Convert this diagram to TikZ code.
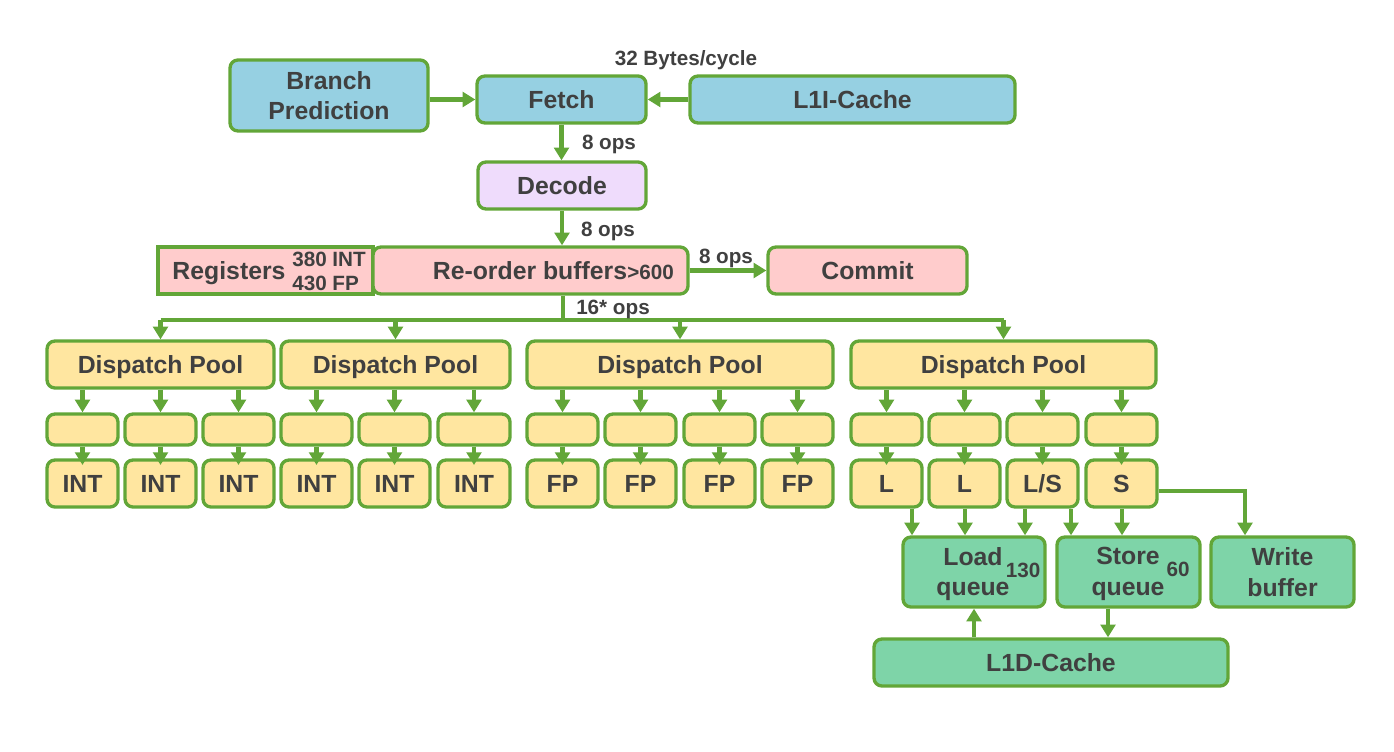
\documentclass[tikz,border=0pt]{standalone}
\usepackage{fontspec}
\setmainfont{Liberation Sans}
\usetikzlibrary{arrows.meta,calc}
\definecolor{lgreen}{RGB}{98,166,56}
\definecolor{cblue}{RGB}{150,208,226}
\definecolor{cpurple}{RGB}{239,220,252}
\definecolor{cpink}{RGB}{255,204,204}
\definecolor{cyellow}{RGB}{255,230,160}
\definecolor{cmint}{RGB}{126,212,168}
\definecolor{txt}{RGB}{64,64,64}
\newcommand\mainf{\fontsize{18.6}{23}\selectfont\bfseries}
\newcommand\smallf{\fontsize{15.5}{18}\selectfont\bfseries}
% \mybox{name}{x1}{y1}{x2}{y2}{style}{text}
\newcommand\mybox[7]{\node[#6, minimum width={(#4-#2)*0.75pt}, minimum height={(#5-#3)*0.75pt}] (#1) at ({(#2+#4)/2},{(#3+#5)/2}) {#7};}
\begin{document}
\begin{tikzpicture}[x=0.75pt,y=-0.75pt,
  base/.style={draw=lgreen, line width=2.5pt, rounded corners=6pt, text=txt, font=\mainf, inner sep=0pt, align=center},
  capc/.style={text height=13.3pt, text depth=0pt},
  bluebox/.style={base, fill=cblue},
  purplebox/.style={base, fill=cpurple},
  pinkbox/.style={base, fill=cpink},
  pinkrect/.style={base, fill=cpink, rounded corners=0pt},
  yellowbox/.style={base, fill=cyellow},
  mintbox/.style={base, fill=cmint},
  lbl/.style={text=txt, font=\smallf, inner sep=0pt},
  lblc/.style={lbl, text height=11.1pt, text depth=0pt},
  txtlbl/.style={text=txt, font=\mainf, inner sep=0pt, align=center},
  arr/.style={draw=lgreen, line width=3.5pt, -{Triangle[width=11pt,length=9.5pt]}},
  wire/.style={draw=lgreen, line width=3.5pt},
  intoarr/.style={arr, shorten >=-5pt}
]
\path[use as bounding box] (0,0) rectangle (1394,752);

% front end
\mybox{bp}{230}{60}{428}{131}{bluebox}{Branch\\Prediction}
\mybox{fetch}{477}{76}{646}{123}{bluebox,capc}{Fetch}
\mybox{l1i}{690}{76}{1015}{123}{bluebox,capc}{L1I-Cache}
\node[lblc] (bw) at (686,58) {32 Bytes/cycle};
\mybox{decode}{478}{162}{646}{209}{purplebox,capc}{Decode}

\mybox{regs}{158}{247}{373}{294}{pinkrect}{}
\node[txtlbl, anchor=base] (regtxt) at (229,279) {Registers};
\node[lbl, anchor=west, align=left] (regnum) at (292,271) {380 INT\\430 FP};
\mybox{rob}{373}{247}{688}{294}{pinkbox}{}
\node[txtlbl, anchor=base] (robtxt) at (530,279) {Re-order buffers};
\node[lbl, anchor=base west] (robnum) at (627,279) {>600};
\mybox{commit}{768}{247}{967}{294}{pinkbox,capc}{Commit}

\draw[arr] (bp.east |- fetch.west) -- (fetch.west);
\draw[arr] (l1i.west) -- (fetch.east);
\draw[arr] (fetch.south) -- (fetch.south |- decode.north);
\node[lblc] (ops1) at (609,142) {8 ops};
\draw[arr] (decode.south) -- (decode.south |- rob.north);
\node[lblc] (ops2) at (608,229) {8 ops};
\draw[arr] (rob.east) -- (commit.west);
\node[lblc] (ops3) at (726,256) {8 ops};

% dispatch pools
\mybox{dp1}{47}{341}{274}{388}{yellowbox,capc}{Dispatch Pool}
\mybox{dp2}{281}{341}{510}{388}{yellowbox,capc}{Dispatch Pool}
\mybox{dp3}{527}{341}{833}{388}{yellowbox,capc}{Dispatch Pool}
\mybox{dp4}{851}{341}{1156}{388}{yellowbox,capc}{Dispatch Pool}

\coordinate (split) at (563,320);
\draw[wire] (split |- rob.south) -- (split);
\draw[wire] (dp1.north |- split) -- (dp4.north |- split);
\node[lblc] (ops4) at (613,307) {16* ops};
\foreach \d in {dp1,dp2,dp3,dp4}{
  \draw[arr] (\d.north |- split) -- (\d.north);
}

% queues and units
\foreach \n/\a/\b/\t/\d in {
  1/47/118/INT/dp1, 2/125/196/INT/dp1, 3/203/274/INT/dp1,
  4/281/352/INT/dp2, 5/359/430/INT/dp2, 6/438/510/INT/dp2,
  7/527/598/FP/dp3, 8/605/676/FP/dp3, 9/684/755/FP/dp3, 10/762/833/FP/dp3,
  11/851/922/L/dp4, 12/929/1000/L/dp4, 13/1007/1078/L\slash S/dp4, 14/1086/1157/S/dp4}{
  \mybox{sb\n}{\a}{414}{\b}{445}{yellowbox}{}
  \mybox{u\n}{\a}{460}{\b}{507}{yellowbox,capc}{\t}
  \draw[arr] (sb\n.north |- \d.south) -- (sb\n.north);
  \draw[intoarr] (sb\n.south) -- (u\n.north);
}

% memory
\mybox{lq}{903}{537}{1045}{607}{mintbox}{}
\node[txtlbl] (lqtxt) at (973,574) {Load\\queue};
\node[lbl] (lqnum) at (1023,570) {130};
\mybox{sq}{1057}{537}{1200}{607}{mintbox}{}
\node[txtlbl] (sqtxt) at (1128,574) {Store\\queue};
\node[lbl] (sqnum) at (1178,569) {60};
\mybox{wb}{1211}{537}{1354}{607}{mintbox}{Write\\buffer}
\mybox{l1d}{874}{639}{1228}{686}{mintbox,capc}{L1D-Cache}

\coordinate (c1) at (912,0);
\coordinate (c2) at (965,0);
\coordinate (c3) at (1025,0);
\coordinate (c4) at (1071,0);
\coordinate (c5) at (1122,0);
\coordinate (c6) at (1245,0);
\coordinate (c7) at (1108,0);
\coordinate (sy) at (0,491);
\draw[arr] (u11.south -| c1) -- (lq.north -| c1);
\draw[arr] (u12.south -| c2) -- (lq.north -| c2);
\draw[arr] (u13.south -| c3) -- (lq.north -| c3);
\draw[arr] (u13.south -| c4) -- (sq.north -| c4);
\draw[arr] (u14.south -| c5) -- (sq.north -| c5);
\draw[arr] (u14.east |- sy) -| (wb.north -| c6);
\draw[arr] (lq.south |- l1d.north) -- (lq.south);
\draw[arr] (sq.south -| c7) -- (l1d.north -| c7);
\end{tikzpicture}
\end{document}
